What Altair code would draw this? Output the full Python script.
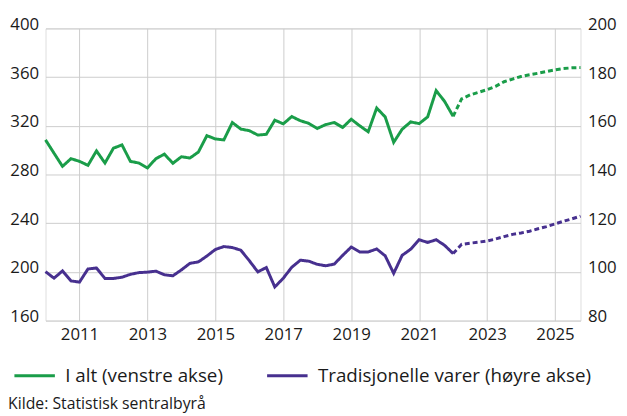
import altair as alt
import pandas as pd

start_year = 2010
# quarterly series, 2010K1 - 2022K1 (observed) and 2022K2 - 2025K4 (projection)
green_hist = [308.4, 297.5, 286.7, 293.0, 290.8, 287.5, 299.4, 289.4, 301.6, 304.3,
              290.8, 289.4, 285.4, 293.0, 296.7, 289.2, 294.6, 293.5, 298.4, 311.9,
              309.2, 308.4, 322.7, 317.3, 316.0, 312.4, 313.0, 324.6, 321.6, 327.6,
              324.2, 322.0, 317.8, 321.0, 322.7, 318.6, 325.4, 320.0, 315.1, 334.6,
              327.3, 306.4, 317.2, 323.2, 321.8, 327.3, 348.9, 340.0, 327.8]
green_proj = [342.1, 345.4, 347.5, 349.7, 352.4, 356.2, 358.4, 360.5, 361.9, 363.2,
              364.6, 365.9, 367.0, 367.6, 367.8]
purple_hist = [100.1, 97.4, 100.4, 96.3, 95.8, 101.2, 101.6, 97.3, 97.3, 97.8,
               99.0, 99.7, 99.9, 100.3, 98.8, 98.4, 100.8, 103.5, 104.1, 106.5,
               109.2, 110.4, 110.0, 108.9, 104.6, 100.0, 101.8, 93.8, 97.4, 101.9,
               104.8, 104.4, 103.1, 102.5, 103.2, 106.8, 110.2, 108.2, 108.2, 109.4,
               106.6, 99.4, 106.8, 109.3, 113.2, 112.1, 113.2, 110.9, 107.5]
purple_proj = [111.3, 111.8, 112.2, 112.7, 113.5, 114.5, 115.4, 116.0, 116.7, 117.7,
               118.6, 119.7, 120.8, 121.8, 122.9]

series_names = ["I alt (venstre akse)", "Tradisjonelle varer (høyre akse)"]
colors = ["#1a9d49", "#47308f"]
year_ticks = [2011, 2013, 2015, 2017, 2019, 2021, 2023, 2025]
source_text = ["Kilde: Statistisk sentralbyrå"]
FONT = "Open Sans"


def build(name, hist, proj):
    rows = []
    for i, v in enumerate(hist):
        rows.append({"t": start_year + i / 4, "v": v, "series": name, "kind": "hist"})
    n = len(hist)
    # projection starts from last observed point
    rows.append({"t": start_year + (n - 1) / 4, "v": hist[-1], "series": name, "kind": "proj"})
    for j, v in enumerate(proj):
        rows.append({"t": start_year + (n + j) / 4, "v": v, "series": name, "kind": "proj"})
    return pd.DataFrame(rows)


df_g = build(series_names[0], green_hist, green_proj)
df_p = build(series_names[1], purple_hist, purple_proj)

x_enc = alt.X("t:Q", title=None,
              scale=alt.Scale(domain=[2010, 2025.75], nice=False, zero=False),
              axis=alt.Axis(values=year_ticks, format="d", grid=True, ticks=False,
                            domain=False, labelPadding=6, labelFontSize=17,
                            labelFont=FONT, labelColor="#1a1a1a",
                            gridColor="#cccccc", labelFlush=False))
color_enc = alt.Color("series:N", title=None,
                      scale=alt.Scale(domain=series_names, range=colors),
                      legend=alt.Legend(orient="none", legendX=-33, legendY=330,
                                        direction="horizontal", symbolType="stroke",
                                        symbolSize=1681, symbolStrokeWidth=3,
                                        labelFontSize=19, labelFont=FONT,
                                        labelColor="#1a1a1a", labelOffset=9,
                                        columnPadding=38, labelLimit=400))
dash_enc = alt.StrokeDash("kind:N", legend=None,
                          scale=alt.Scale(domain=["hist", "proj"], range=[[1, 0], [5, 3]]))

green = alt.Chart(df_g).mark_line(strokeWidth=3).encode(
    x=x_enc,
    y=alt.Y("v:Q", title=None,
            scale=alt.Scale(domain=[160, 400], nice=False, zero=False),
            axis=alt.Axis(values=[160, 200, 240, 280, 320, 360, 400], orient="left",
                          grid=True, ticks=False, domain=False, labelPadding=7,
                          labelFontSize=17, labelFont=FONT, labelColor="#1a1a1a",
                          gridColor="#cccccc", labelOffset=-4)),
    color=color_enc,
    strokeDash=dash_enc,
    order="t:Q",
)

purple = alt.Chart(df_p).mark_line(strokeWidth=3).encode(
    x=x_enc,
    y=alt.Y("v:Q", title=None,
            scale=alt.Scale(domain=[80, 200], nice=False, zero=False),
            axis=alt.Axis(values=[80, 100, 120, 140, 160, 180, 200], orient="right",
                          grid=False, ticks=False, domain=False, labelPadding=7,
                          labelFontSize=17, labelFont=FONT, labelColor="#1a1a1a",
                          labelOffset=-4)),
    color=color_enc,
    strokeDash=dash_enc,
    order="t:Q",
)

footer = alt.Chart(pd.DataFrame({"txt": source_text})).mark_text(
    align="left", baseline="alphabetic", fontSize=16, font=FONT, color="#1a1a1a"
).encode(text="txt:N", x=alt.value(-38), y=alt.value(386))

chart = alt.layer(green, purple, footer).resolve_scale(y="independent").properties(
    width=542, height=296,
    padding={"left": 38, "top": 18, "right": 39, "bottom": 94},
    autosize=alt.AutoSizeParams(type="none"),
).configure_view(stroke="#cccccc", strokeWidth=1.5).configure(background="white")

chart.save("out.html", embed_options={"renderer": "svg", "actions": False})
